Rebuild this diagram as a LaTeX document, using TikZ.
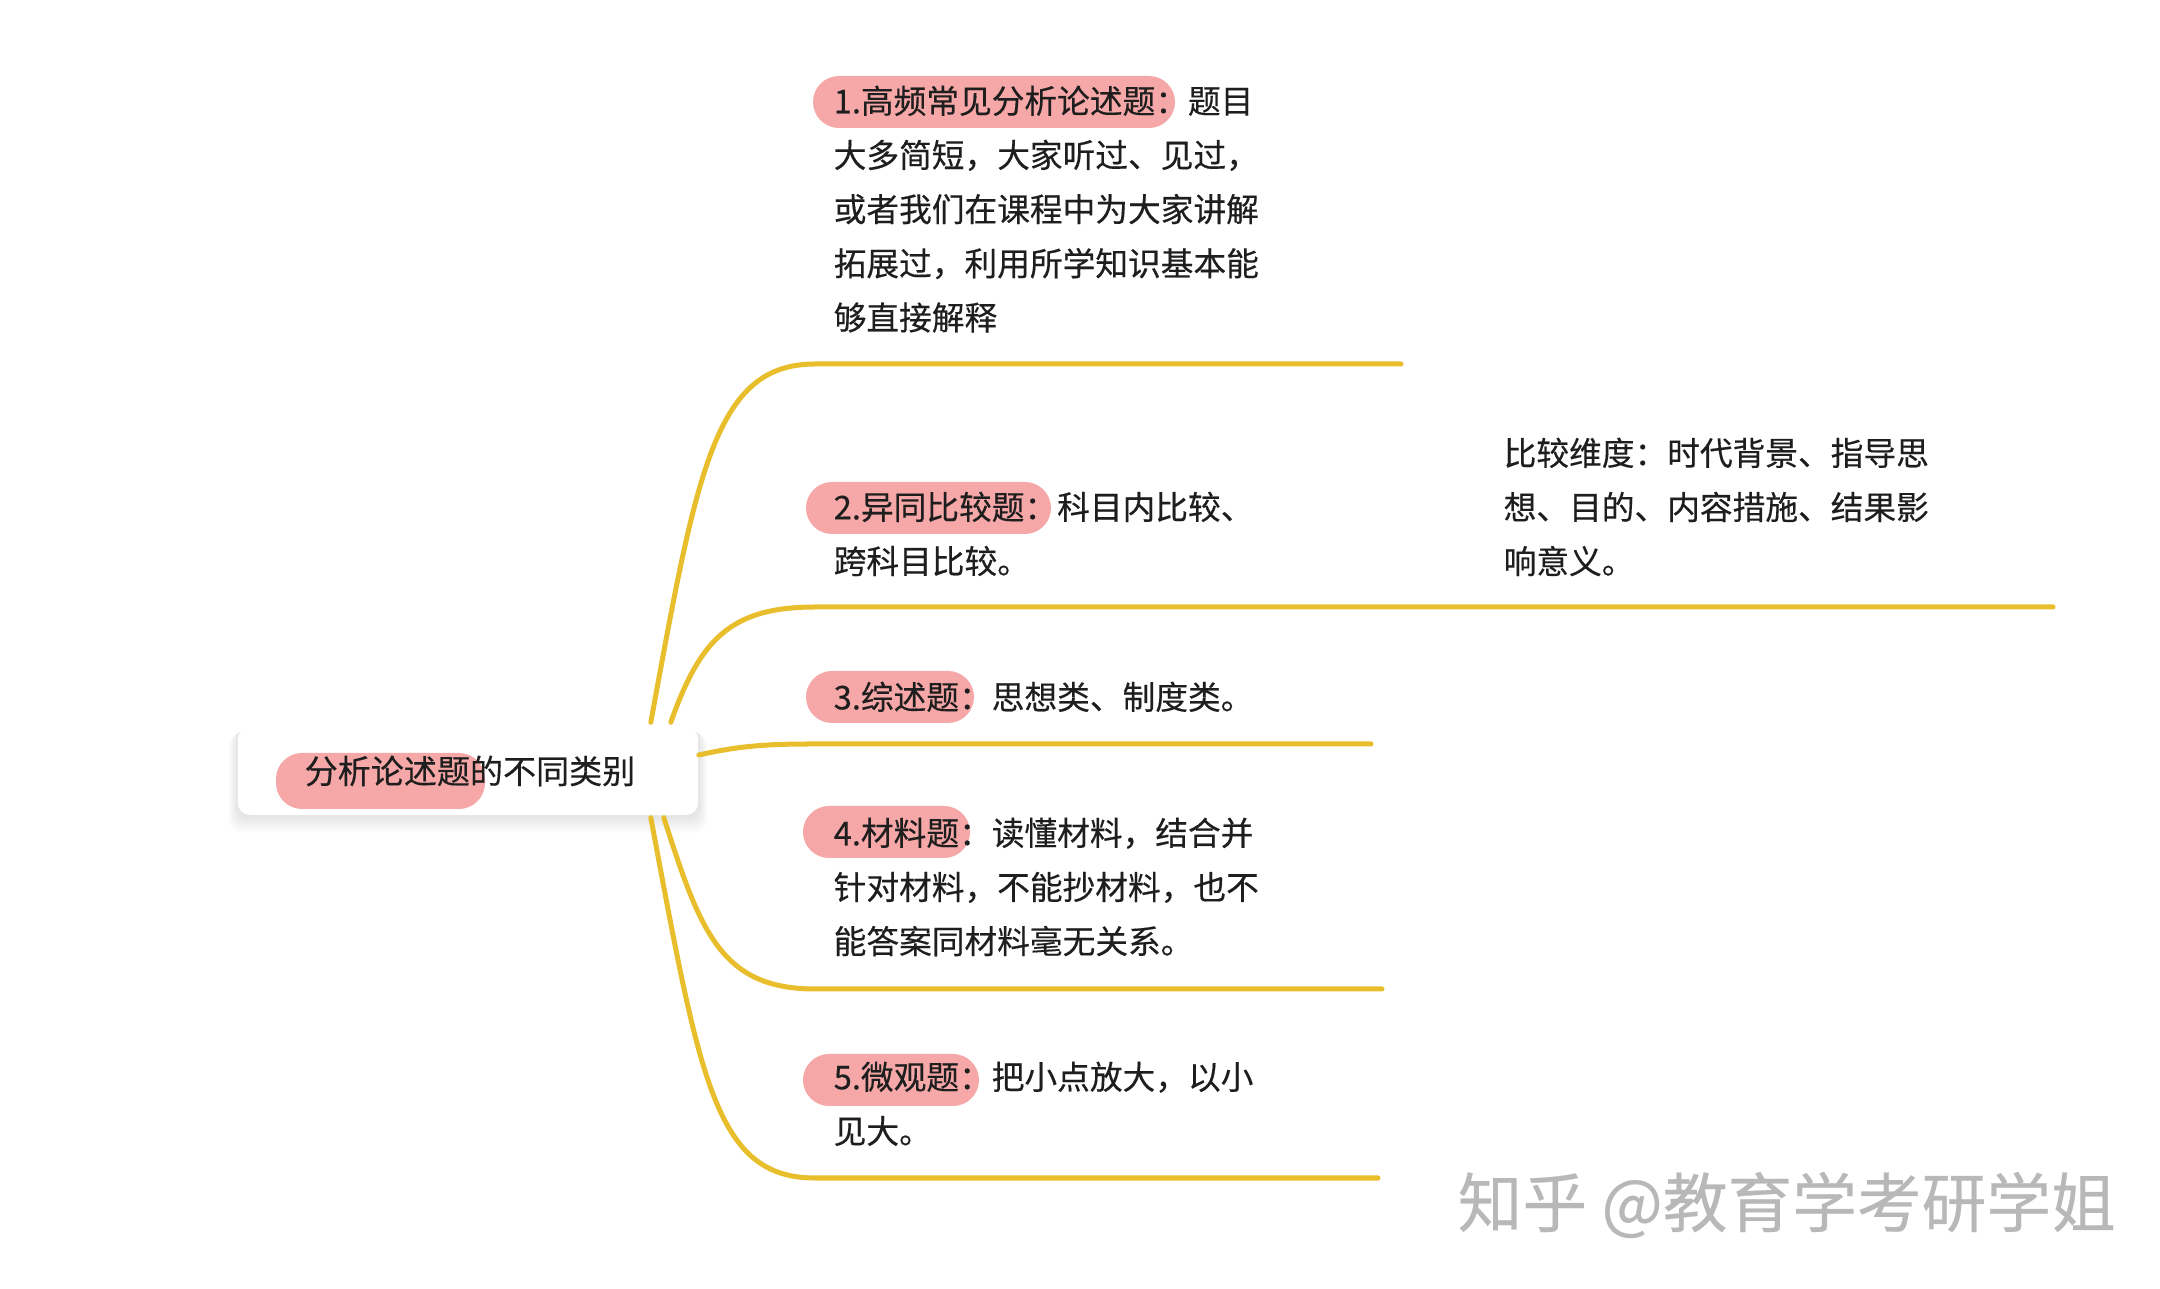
\documentclass[tikz,border=0pt]{standalone}
\usepackage{fontspec}
\setmainfont{Noto Sans CJK SC}[FakeBold=0.35]
\definecolor{giallo}{HTML}{E9BE2C}
\definecolor{rosa}{HTML}{F5A8A7}
\definecolor{nero}{HTML}{1E1E1E}
\definecolor{grigio}{HTML}{B8B8B8}
\tikzset{
  ramo/.style={draw=giallo, line width=0.05cm, line cap=round},
  pillola/.style={fill=rosa, rounded corners=0.26cm},
  testo/.style={anchor=north west, inner sep=0pt, align=left, text=nero,
    font=\fontsize{9.3pt}{15.4pt}\selectfont},
}

\begin{document}
\begin{tikzpicture}[x=0.01cm, y=-0.01cm]
        % Sfondo
        \fill[white] (0,0) rectangle (2160,1289);
        \useasboundingbox (0,0) rectangle (2160,1289);
        % Ombra del nodo centrale
        \foreach \d in {2,4,...,18}
            \fill[black, opacity=0.010, rounded corners=0.12cm]
            (238-\d/2,727+\d/3) rectangle (698+\d/2,815+\d);
        % Nodo centrale
        \node[fill=white, rounded corners=0.12cm, minimum width=4.6cm,
            minimum height=0.88cm, inner sep=0pt] (radice) at (468,771) {};
        \fill[pillola] (276,753) rectangle (485,809);
        \node[anchor=west, inner sep=0pt, text=nero,
            font=\fontsize{9.4pt}{12pt}\selectfont] (titolo) at (304,771) {分析论述题的不同类别};
        % Punti di partenza dei rami
        \coordinate (su1) at ([xshift=-0.48cm, yshift=0.04cm]radice.north east);
        \coordinate (su2) at ([xshift=-0.28cm, yshift=0.04cm]radice.north east);
        \coordinate (me3) at ([yshift=0.16cm]radice.east);
        \coordinate (giu4) at ([xshift=-0.35cm, yshift=-0.02cm]radice.south east);
        \coordinate (giu5) at ([xshift=-0.48cm, yshift=-0.02cm]radice.south east);
        \coordinate (fine1) at (1401,364);
        \coordinate (fine2) at (2053,607);
        \coordinate (fine3) at (1371,744);
        \coordinate (fine4) at (1382,989);
        \coordinate (fine5) at (1378,1178);
        % Rami
        \draw[ramo] (su1) .. controls (697,470) and (715,364) .. (815,364) -- (fine1);
        \draw[ramo] (su2) .. controls (700,640) and (730,607) .. (815,607) -- (fine2);
        \draw[ramo] (me3) .. controls (735,747) and (760,744) .. (810,744) -- (fine3);
        \draw[ramo] (giu4) .. controls (700,930) and (720,989) .. (815,989) -- (fine4);
        \draw[ramo] (giu5) .. controls (700,1080) and (715,1178) .. (815,1178) -- (fine5);
        % Evidenziatori
        \fill[pillola] (813,76) rectangle (1175,128);
        \fill[pillola] (806,482) rectangle (1051,534);
        \fill[pillola] (806,671) rectangle (974,723);
        \fill[pillola] (803,806) rectangle (970,858);
        \fill[pillola] (803,1054) rectangle (979,1106);
        % Testi dei rami
        \node[testo] (tipo1) at (833,85) {1.高频常见分析论述题：题目\\大多简短，大家听过、见过，\\或者我们在课程中为大家讲解\\拓展过，利用所学知识基本能\\够直接解释};
        \node[testo] (tipo2) at (833,491) {2.异同比较题：科目内比较、\\跨科目比较。};
        \node[testo] (dimensioni) at (1503,437) {比较维度：时代背景、指导思\\想、目的、内容措施、结果影\\响意义。};
        \node[testo] (tipo3) at (833,681) {3.综述题：思想类、制度类。};
        \node[testo] (tipo4) at (833,817) {4.材料题：读懂材料，结合并\\针对材料，不能抄材料，也不\\能答案同材料毫无关系。};
        \node[testo] (tipo5) at (833,1061) {5.微观题：把小点放大，以小\\见大。};
        % Filigrana
        \node[anchor=west, inner sep=0pt, text=grigio,
            font=\fontsize{18.4pt}{22pt}\selectfont] (firma) at (1457,1205) {知乎 @教育学考研学姐};
\end{tikzpicture}
\end{document}
